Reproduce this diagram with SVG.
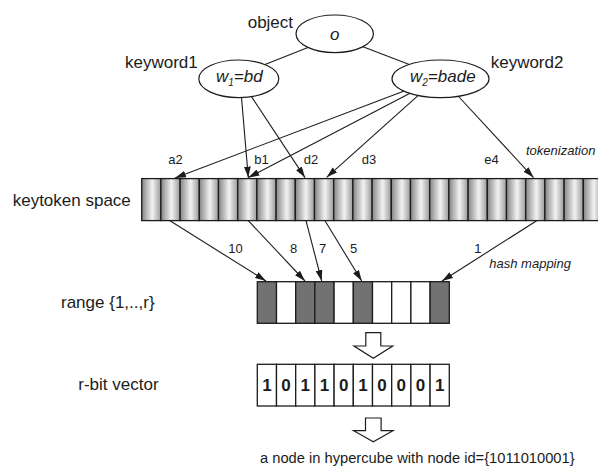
<svg xmlns="http://www.w3.org/2000/svg" width="598" height="468" viewBox="0 0 598 468">
  <style>
    text { font-family: "Liberation Sans", Arial, sans-serif; fill: #1c1c1c; }
    .lbl { font-size: 17px; }
    .tok { font-size: 13px; }
    .note { font-size: 13px; font-style: italic; }
    .it { font-size: 17px; font-style: italic; }
    .bit { font-size: 17px; font-weight: bold; text-anchor: middle; }
    .node { fill: #ffffff; stroke: #1c1c1c; stroke-width: 1.2; }
    .edge { fill: none; stroke: #1c1c1c; stroke-width: 1.1; }
    .arr { fill: none; stroke: #1c1c1c; stroke-width: 1.1; marker-end: url(#head); }
    .cell { fill: url(#shade); stroke: #1c1c1c; stroke-width: 1.3; }
    .on { fill: #727272; stroke: #1c1c1c; stroke-width: 1.3; }
    .off { fill: #ffffff; stroke: #1c1c1c; stroke-width: 1.3; }
    .hollow { fill: #ffffff; stroke: #1c1c1c; stroke-width: 1.2; stroke-linejoin: miter; }
  </style>
  <defs>
    <linearGradient id="shade" x1="0" y1="0" x2="1" y2="0">
      <stop offset="0" stop-color="#858585"/>
      <stop offset="0.55" stop-color="#f2f2f2"/>
      <stop offset="1" stop-color="#9a9a9a"/>
    </linearGradient>
    <marker id="head" markerUnits="userSpaceOnUse" markerWidth="12" markerHeight="8" viewBox="0 0 12 8" refX="11" refY="4" orient="auto">
      <path d="M0,0.6 L11,4 L0,7.4 Z" fill="#1c1c1c"/>
    </marker>
  </defs>

  <!-- object and keyword nodes -->
  <g id="object">
    <ellipse class="node" cx="334.7" cy="33.8" rx="38.7" ry="18.8"/>
    <text class="it" x="334.7" y="40" text-anchor="middle">o</text>
    <text class="lbl" x="247.7" y="28.3">object</text>
  </g>
  <g id="keyword1">
    <ellipse class="node" cx="238.8" cy="78.8" rx="40" ry="18.8"/>
    <text class="it" x="216" y="82.3">w<tspan font-size="10" dy="4">1</tspan><tspan dy="-4">=bd</tspan></text>
    <text class="lbl" x="125" y="68.3">keyword1</text>
  </g>
  <g id="keyword2">
    <ellipse class="node" cx="440.5" cy="78.8" rx="48.5" ry="18.8"/>
    <text class="it" x="410" y="82.3">w<tspan font-size="10" dy="4">2</tspan><tspan dy="-4">=bade</tspan></text>
    <text class="lbl" x="490.7" y="68.3">keyword2</text>
  </g>

  <!-- keytoken space -->
  <g id="keytoken-space">
    <text class="lbl" x="12.7" y="206">keytoken space</text>
    <rect class="cell" x="141.7" y="178.6" width="19.2" height="42"/>
    <rect class="cell" x="160.9" y="178.6" width="19.2" height="42"/>
    <rect class="cell" x="180.1" y="178.6" width="19.2" height="42"/>
    <rect class="cell" x="199.3" y="178.6" width="19.2" height="42"/>
    <rect class="cell" x="218.5" y="178.6" width="19.2" height="42"/>
    <rect class="cell" x="237.7" y="178.6" width="19.2" height="42"/>
    <rect class="cell" x="256.9" y="178.6" width="19.2" height="42"/>
    <rect class="cell" x="276.1" y="178.6" width="19.2" height="42"/>
    <rect class="cell" x="295.3" y="178.6" width="19.2" height="42"/>
    <rect class="cell" x="314.5" y="178.6" width="19.2" height="42"/>
    <rect class="cell" x="333.7" y="178.6" width="19.2" height="42"/>
    <rect class="cell" x="352.9" y="178.6" width="19.2" height="42"/>
    <rect class="cell" x="372.1" y="178.6" width="19.2" height="42"/>
    <rect class="cell" x="391.3" y="178.6" width="19.2" height="42"/>
    <rect class="cell" x="410.5" y="178.6" width="19.2" height="42"/>
    <rect class="cell" x="429.7" y="178.6" width="19.2" height="42"/>
    <rect class="cell" x="448.9" y="178.6" width="19.2" height="42"/>
    <rect class="cell" x="468.1" y="178.6" width="19.2" height="42"/>
    <rect class="cell" x="487.3" y="178.6" width="19.2" height="42"/>
    <rect class="cell" x="506.5" y="178.6" width="19.2" height="42"/>
    <rect class="cell" x="525.7" y="178.6" width="19.2" height="42"/>
    <rect class="cell" x="544.9" y="178.6" width="19.2" height="42"/>
    <rect class="cell" x="564.1" y="178.6" width="19.2" height="42"/>
    <rect class="cell" x="583.3" y="178.6" width="19.2" height="42"/>
    <text class="tok" x="168.3" y="164">a2</text>
    <text class="tok" x="254.3" y="164">b1</text>
    <text class="tok" x="303.8" y="164">d2</text>
    <text class="tok" x="361.7" y="164">d3</text>
    <text class="tok" x="484.3" y="164">e4</text>
    <text class="note" x="526" y="155">tokenization</text>
  </g>

  <!-- range {1,..,r} -->
  <g id="range">
    <text class="lbl" x="61" y="307.7">range {1,..,r}</text>
    <rect class="on" x="257.3" y="281.7" width="19.2" height="41.6"/>
    <rect class="off" x="276.5" y="281.7" width="19.2" height="41.6"/>
    <rect class="on" x="295.7" y="281.7" width="19.2" height="41.6"/>
    <rect class="on" x="314.9" y="281.7" width="19.2" height="41.6"/>
    <rect class="off" x="334.1" y="281.7" width="19.2" height="41.6"/>
    <rect class="on" x="353.3" y="281.7" width="19.2" height="41.6"/>
    <rect class="off" x="372.5" y="281.7" width="19.2" height="41.6"/>
    <rect class="off" x="391.7" y="281.7" width="19.2" height="41.6"/>
    <rect class="off" x="410.9" y="281.7" width="19.2" height="41.6"/>
    <rect class="on" x="430.1" y="281.7" width="19.2" height="41.6"/>
    <text class="tok" x="228.3" y="252.7">10</text>
    <text class="tok" x="290" y="252.7">8</text>
    <text class="tok" x="319" y="252.7">7</text>
    <text class="tok" x="350" y="252.7">5</text>
    <text class="tok" x="474.3" y="252.7">1</text>
    <text class="note" x="489.3" y="268.3">hash mapping</text>
  </g>

  <!-- r-bit vector -->
  <g id="bit-vector">
    <text class="lbl" x="78.3" y="390">r-bit vector</text>
    <rect class="off" x="257.3" y="364.3" width="19.2" height="41.7"/>
    <rect class="off" x="276.5" y="364.3" width="19.2" height="41.7"/>
    <rect class="off" x="295.7" y="364.3" width="19.2" height="41.7"/>
    <rect class="off" x="314.9" y="364.3" width="19.2" height="41.7"/>
    <rect class="off" x="334.1" y="364.3" width="19.2" height="41.7"/>
    <rect class="off" x="353.3" y="364.3" width="19.2" height="41.7"/>
    <rect class="off" x="372.5" y="364.3" width="19.2" height="41.7"/>
    <rect class="off" x="391.7" y="364.3" width="19.2" height="41.7"/>
    <rect class="off" x="410.9" y="364.3" width="19.2" height="41.7"/>
    <rect class="off" x="430.1" y="364.3" width="19.2" height="41.7"/>
    <text class="bit" x="266.9" y="391">1</text>
    <text class="bit" x="286.1" y="391">0</text>
    <text class="bit" x="305.3" y="391">1</text>
    <text class="bit" x="324.5" y="391">1</text>
    <text class="bit" x="343.7" y="391">0</text>
    <text class="bit" x="362.9" y="391">1</text>
    <text class="bit" x="382.1" y="391">0</text>
    <text class="bit" x="401.3" y="391">0</text>
    <text class="bit" x="420.5" y="391">0</text>
    <text class="bit" x="439.7" y="391">1</text>
  </g>

  <!-- hypercube node -->
  <g id="hypercube-node">
    <text x="260" y="463" style="font-size:14.7px">a node in hypercube with node id={1011010001}</text>
  </g>

  <!-- connectors -->
  <g id="connectors">
    <line class="edge" x1="308" y1="47.4" x2="265" y2="64.5"/>
    <line class="edge" x1="363" y1="46.7" x2="409.3" y2="64.4"/>
    <line class="arr" x1="241.5" y1="97.5" x2="248.3" y2="177.6"/>
    <line class="arr" x1="251.5" y1="96.6" x2="305" y2="177.6"/>
    <line class="arr" x1="403.5" y1="91.2" x2="175" y2="178"/>
    <line class="arr" x1="410" y1="93.3" x2="248.3" y2="177.6"/>
    <line class="arr" x1="418" y1="95.6" x2="326.7" y2="177.3"/>
    <line class="arr" x1="459" y1="97" x2="533.5" y2="177.6"/>
    <line class="arr" x1="170" y1="220.7" x2="266" y2="281"/>
    <line class="arr" x1="248.3" y1="220.7" x2="305" y2="281"/>
    <line class="arr" x1="306" y1="220.7" x2="321.7" y2="281"/>
    <line class="arr" x1="325" y1="220.7" x2="361.7" y2="281"/>
    <line class="arr" x1="536.7" y1="220.7" x2="442" y2="281"/>
    <path class="hollow" d="M365.8,332.7 H380.8 V346 H392.7 L373.3,358.3 L354,346 H365.8 Z"/>
    <path class="hollow" d="M365.5,418 H381.1 V430.7 H393 L373.3,441.7 L353.6,430.7 H365.5 Z"/>
  </g>
</svg>
